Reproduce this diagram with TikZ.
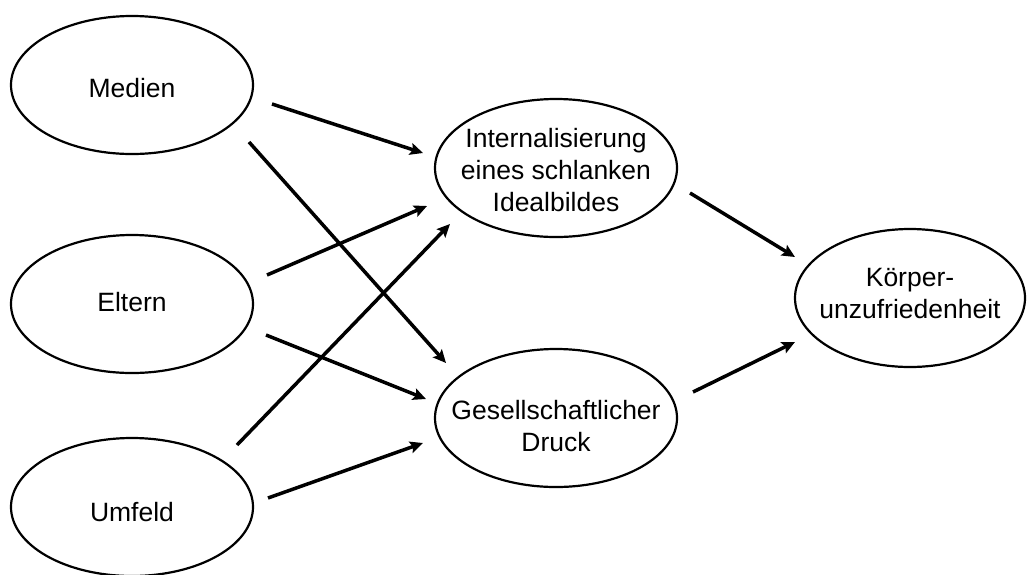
\documentclass[tikz,border=0pt]{standalone}
\usepackage{fontspec}
\setmainfont{Liberation Sans}
\usetikzlibrary{shapes.geometric,arrows.meta,calc}
\begin{document}
\begin{tikzpicture}[x=1pt,y=-1pt,
  ell/.style={ellipse,draw,line width=2.2pt,minimum width=242pt,minimum height=138pt,inner sep=0pt},
  lbl/.style={align=center,inner sep=0pt,font=\fontsize{26.5}{32}\selectfont},
  arr/.style={line width=3.5pt,-{Stealth[length=13pt,width=12pt,inset=2.5pt]}}]
\useasboundingbox (0,0) rectangle (1027,574);
\node[ell] (medien) at (132,85) {};
\node[ell] (eltern) at (132,304) {};
\node[ell] (umfeld) at (132,507) {};
\node[ell] (intern) at (556,168) {};
\node[ell] (gesell) at (556,418) {};
\node[ell,minimum width=230pt] (koerper) at (910,298) {};
\node[lbl] (tm) at (132,88) {Medien};
\node[lbl] (te) at (132,302) {Eltern};
\node[lbl] (tu) at (132,512) {Umfeld};
\node[lbl] (ti) at (556,170) {Internalisierung\\eines schlanken\\Idealbildes};
\node[lbl] (tg) at (556,426) {Gesellschaftlicher\\Druck};
\node[lbl] (tk) at (910,294) {Körper-\\unzufriedenheit};
\draw[arr] ($(medien)+(140,19)$) -- ($(intern)+(-133,-15)$);
\draw[arr] ($(medien)+(117,57)$) -- ($(gesell)+(-110,-55)$);
\draw[arr] ($(eltern)+(135,-29)$) -- ($(intern)+(-129,38)$);
\draw[arr] ($(eltern)+(134,31)$) -- ($(gesell)+(-130,-19)$);
\draw[arr] ($(umfeld)+(105,-62)$) -- ($(intern)+(-106,56)$);
\draw[arr] ($(umfeld)+(136,-9)$) -- ($(gesell)+(-133,25)$);
\draw[arr] ($(intern)+(134,25)$) -- ($(koerper)+(-115,-41)$);
\draw[arr] ($(gesell)+(137,-26)$) -- ($(koerper)+(-115,44)$);
\end{tikzpicture}
\end{document}
